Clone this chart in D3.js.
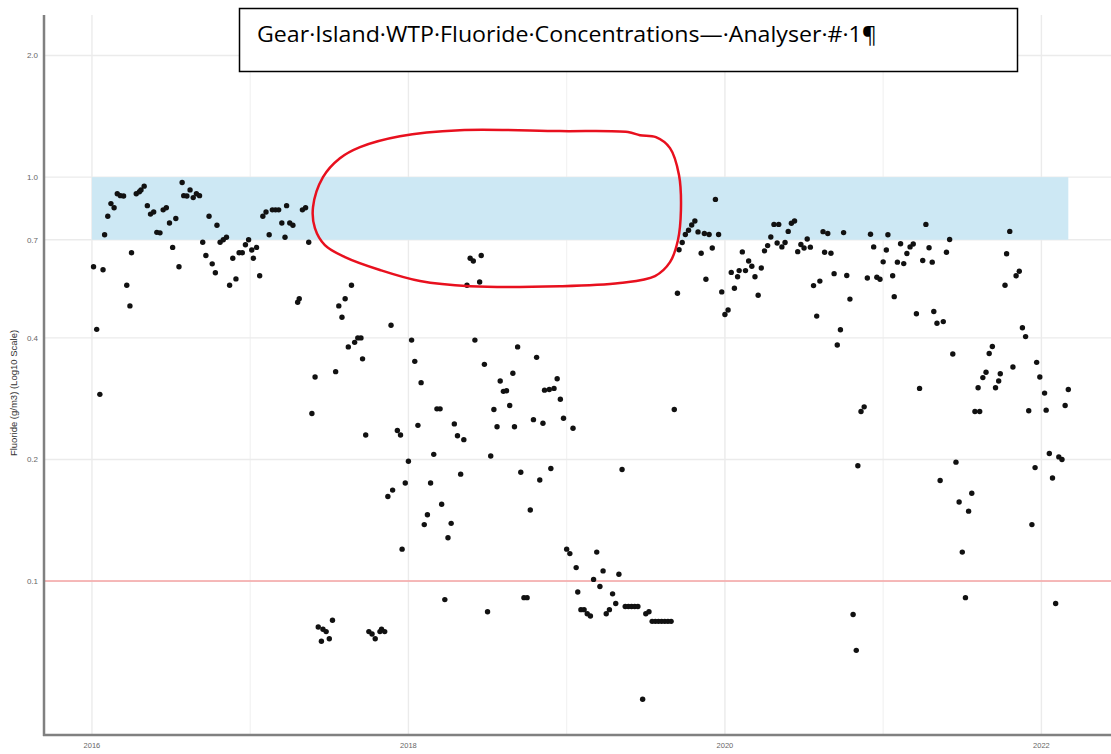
<!DOCTYPE html>
<html>
<head>
<meta charset="utf-8">
<script src="https://cdn.jsdelivr.net/npm/d3@7"></script>
<style>
  html, body { margin: 0; padding: 0; background: #fff; }
  svg { display: block; }
</style>
</head>
<body>
<svg id="chart" width="1111" height="754"></svg>
<script>
// ---------------- DATA ----------------
const titleText = "Gear\u00B7Island\u00B7WTP\u00B7Fluoride\u00B7Concentrations\u2014\u00B7Analyser\u00B7#\u00B71\u00B6";
const yAxisTitle = "Fluoride (g/m3) (Log10 Scale)";
const xTickValues = [2016, 2018, 2020, 2022];
const xMinorValues = [2017, 2019, 2021];
const yTickValues = [0.1, 0.2, 0.4, 0.7, 1.0, 2.0];
const yTickLabels = ["0.1", "0.2", "0.4", "0.7", "1.0", "2.0"];
const targetBand = [0.7, 1.0];          // shaded target range
const bandYears = [2016.0, 2022.17];    // shaded band extent
const minLimit = 0.1;                   // red reference line

const sampleYears = [
2016.01,2016.03,2016.05,2016.07,2016.08,2016.10,2016.12,2016.14,2016.16,2016.18,
2016.20,2016.22,2016.24,2016.25,2016.28,2016.30,2016.31,2016.33,2016.35,2016.37,
2016.39,2016.41,2016.43,2016.45,2016.47,2016.49,2016.51,2016.53,2016.55,2016.57,
2016.58,2016.60,2016.62,2016.64,2016.66,2016.68,2016.70,2016.72,2016.74,2016.76,
2016.78,2016.79,2016.81,2016.83,2016.85,2016.87,2016.89,2016.91,2016.93,2016.95,
2016.97,2016.99,2017.01,2017.02,2017.04,2017.06,2017.08,2017.10,2017.12,2017.14,
2017.16,2017.18,2017.20,2017.22,2017.23,2017.25,2017.27,2017.30,2017.31,2017.33,
2017.35,2017.37,2017.39,2017.41,2017.43,2017.45,2017.46,2017.48,2017.50,2017.52,
2017.54,2017.56,2017.58,2017.60,2017.62,2017.64,2017.66,2017.68,2017.70,2017.71,
2017.73,2017.75,2017.77,2017.79,2017.82,2017.83,2017.85,2017.87,2017.89,2017.90,
2017.93,2017.95,2017.96,2017.98,2018.00,2018.02,2018.04,2018.06,2018.08,2018.10,
2018.12,2018.14,2018.16,2018.18,2018.20,2018.21,2018.23,2018.25,2018.27,2018.29,
2018.31,2018.33,2018.35,2018.37,2018.39,2018.41,2018.42,2018.45,2018.46,2018.48,
2018.50,2018.52,2018.54,2018.56,2018.58,2018.60,2018.62,2018.64,2018.66,2018.67,
2018.69,2018.71,2018.73,2018.75,2018.77,2018.79,2018.81,2018.83,2018.85,2018.86,
2018.89,2018.90,2018.92,2018.94,2018.96,2018.98,2019.00,2019.02,2019.04,2019.06,
2019.07,2019.09,2019.11,2019.13,2019.15,2019.17,2019.19,2019.21,2019.23,2019.25,
2019.27,2019.29,2019.31,2019.33,2019.35,2019.37,2019.39,2019.41,2019.43,2019.45,
2019.48,2019.50,2019.52,2019.54,2019.56,2019.58,2019.60,2019.62,2019.64,2019.66,
2019.68,2019.70,2019.71,2019.73,2019.75,2019.77,2019.79,2019.81,2019.83,2019.85,
2019.87,2019.88,2019.90,2019.92,2019.94,2019.96,2019.98,2020.00,2020.02,2020.04,
2020.06,2020.08,2020.09,2020.11,2020.13,2020.15,2020.17,2020.19,2020.21,2020.23,
2020.25,2020.27,2020.29,2020.31,2020.33,2020.34,2020.36,2020.38,2020.40,2020.42,
2020.44,2020.46,2020.48,2020.50,2020.52,2020.54,2020.56,2020.58,2020.60,2020.62,
2020.63,2020.65,2020.67,2020.69,2020.71,2020.73,2020.75,2020.77,2020.79,2020.81,
2020.83,2020.84,2020.86,2020.88,2020.90,2020.92,2020.94,2020.96,2020.98,2021.00,
2021.02,2021.03,2021.06,2021.07,2021.09,2021.11,2021.13,2021.15,2021.17,2021.19,
2021.21,2021.23,2021.25,2021.27,2021.29,2021.31,2021.32,2021.34,2021.36,2021.38,
2021.40,2021.42,2021.44,2021.46,2021.48,2021.50,2021.52,2021.54,2021.56,2021.58,
2021.60,2021.61,2021.63,2021.65,2021.67,2021.69,2021.71,2021.73,2021.74,2021.77,
2021.78,2021.80,2021.82,2021.84,2021.86,2021.88,2021.90,2021.92,2021.94,2021.96,
2021.97,2021.99,2022.02,2022.03,2022.05,2022.07,2022.09,2022.11,2022.13,2022.15,
2022.17
];

const fluorideValues = [
0.60,0.42,0.29,0.59,0.72,0.80,0.86,0.84,0.91,0.90,
0.898,0.54,0.48,0.65,0.91,0.92,0.93,0.95,0.85,0.81,
0.82,0.73,0.728,0.83,0.84,0.77,0.67,0.79,0.60,0.97,
0.90,0.898,0.93,0.89,0.91,0.90,0.69,0.64,0.80,0.61,
0.58,0.76,0.69,0.70,0.71,0.54,0.63,0.56,0.65,0.65,
0.68,0.70,0.66,0.63,0.67,0.57,0.80,0.82,0.72,0.83,
0.83,0.83,0.77,0.71,0.85,0.77,0.76,0.49,0.50,0.83,
0.84,0.69,0.26,0.32,0.077,0.071,0.076,0.075,0.072,0.080,
0.33,0.48,0.45,0.50,0.38,0.54,0.39,0.40,0.40,0.355,
0.23,0.075,0.074,0.072,0.075,0.076,0.075,0.162,0.43,0.168,
0.236,0.230,0.12,0.175,0.198,0.395,0.35,0.243,0.31,0.138,
0.146,0.175,0.206,0.267,0.267,0.155,0.090,0.128,0.139,0.245,
0.229,0.184,0.224,0.54,0.63,0.62,0.395,0.55,0.64,0.344,
0.084,0.204,0.266,0.241,0.313,0.295,0.296,0.272,0.327,0.241,
0.380,0.186,0.091,0.091,0.150,0.251,0.358,0.178,0.246,0.297,
0.298,0.190,0.300,0.317,0.282,0.253,0.120,0.117,0.239,0.108,
0.094,0.085,0.085,0.083,0.082,0.101,0.118,0.097,0.106,0.083,
0.085,0.093,0.088,0.104,0.189,0.0865,0.0865,0.0865,0.0865,0.0865,
0.051,0.083,0.084,0.0795,0.0795,0.0795,0.0795,0.0795,0.0795,0.0795,
0.266,0.516,0.661,0.689,0.721,0.739,0.761,0.779,0.732,0.648,
0.725,0.559,0.721,0.668,0.881,0.721,0.520,0.457,0.469,0.581,
0.531,0.567,0.587,0.653,0.587,0.620,0.602,0.567,0.510,0.596,
0.657,0.677,0.711,0.764,0.687,0.764,0.672,0.689,0.734,0.769,
0.779,0.654,0.681,0.668,0.703,0.671,0.539,0.453,0.553,0.733,
0.652,0.725,0.648,0.577,0.384,0.419,0.729,0.571,0.499,0.0827,
0.0674,0.193,0.263,0.270,0.563,0.722,0.672,0.565,0.559,0.617,
0.660,0.720,0.570,0.506,0.616,0.684,0.611,0.647,0.672,0.683,
0.459,0.300,0.622,0.764,0.669,0.616,0.465,0.435,0.1775,0.439,
0.652,0.701,0.365,0.197,0.157,0.118,0.091,0.149,0.165,0.263,
0.301,0.263,0.319,0.329,0.366,0.381,0.301,0.313,0.326,0.540,
0.646,0.734,0.339,0.570,0.585,0.424,0.403,0.264,0.138,0.191,
0.348,0.320,0.292,0.265,0.207,0.180,0.088,0.203,0.200,0.272,
0.298
];

// Hand-drawn red annotation outline, in data units (year, value)
const annotYears  = [2017.397,2017.460,2017.567,2017.694,2017.946,2018.325,2018.957,2019.387,2019.463,2019.564,2019.653,2019.710,2019.722,2019.703,2019.653,2019.558,2019.336,2018.957,2018.389,2018.073,2017.820,2017.599,2017.472,2017.409];
const annotValues = [0.843,1.0,1.114,1.187,1.263,1.307,1.300,1.293,1.270,1.256,1.180,1.011,0.829,0.698,0.616,0.569,0.547,0.537,0.537,0.553,0.589,0.634,0.679,0.748];

// ---------------- CHART ----------------
const W = 1111, H = 754;
const margin = { left: 44, top: 15, bottom: 735, right: 1118 };
const svg = d3.select("#chart");

const x = d3.scaleLinear().domain([2015.697, 2022.484]).range([margin.left, margin.right]);
const y = d3.scaleLog().domain([0.0416, 2.52]).range([margin.bottom, margin.top]);

const g = svg.append("g");

// grid
g.selectAll("line.vminor").data(xMinorValues).join("line")
  .attr("x1", d => x(d)).attr("x2", d => x(d))
  .attr("y1", margin.top).attr("y2", margin.bottom)
  .attr("stroke", "#f2f2f2").attr("stroke-width", 1.2);
g.selectAll("line.vmajor").data(xTickValues).join("line")
  .attr("x1", d => x(d)).attr("x2", d => x(d))
  .attr("y1", margin.top).attr("y2", margin.bottom)
  .attr("stroke", "#ebebeb").attr("stroke-width", 1.4);
g.selectAll("line.hgrid").data(yTickValues).join("line")
  .attr("x1", margin.left).attr("x2", margin.right)
  .attr("y1", d => y(d)).attr("y2", d => y(d))
  .attr("stroke", "#ebebeb").attr("stroke-width", 1.4);

// target band
g.append("rect")
  .attr("x", x(bandYears[0])).attr("width", x(bandYears[1]) - x(bandYears[0]))
  .attr("y", y(targetBand[1])).attr("height", y(targetBand[0]) - y(targetBand[1]))
  .attr("fill", "#cde8f4");

// red limit line
g.append("line")
  .attr("x1", margin.left).attr("x2", margin.right)
  .attr("y1", y(minLimit)).attr("y2", y(minLimit))
  .attr("stroke", "#f6a5a5").attr("stroke-width", 1.5);

// points
const pts = sampleYears.map((yr, i) => ({ yr, v: fluorideValues[i] }));
g.selectAll("circle.pt").data(pts).join("circle")
  .attr("cx", d => x(d.yr)).attr("cy", d => y(d.v))
  .attr("r", 2.7).attr("fill", "#111");

// axes lines
g.append("line").attr("x1", margin.left).attr("x2", margin.left)
  .attr("y1", margin.top).attr("y2", margin.bottom + 1)
  .attr("stroke", "#808080").attr("stroke-width", 2.5);
g.append("line").attr("x1", margin.left - 1).attr("x2", W)
  .attr("y1", margin.bottom).attr("y2", margin.bottom)
  .attr("stroke", "#808080").attr("stroke-width", 2.5);

// tick labels
g.selectAll("text.ytick").data(yTickValues).join("text")
  .attr("x", margin.left - 6).attr("y", d => y(d)).attr("dy", "0.35em")
  .attr("text-anchor", "end")
  .attr("font-family", "Liberation Sans, Arial, sans-serif")
  .attr("font-size", 8).attr("fill", "#666")
  .text((d, i) => yTickLabels[i]);
g.selectAll("text.xtick").data(xTickValues).join("text")
  .attr("x", d => x(d)).attr("y", margin.bottom + 13)
  .attr("text-anchor", "middle")
  .attr("font-family", "Liberation Sans, Arial, sans-serif")
  .attr("font-size", 7.5).attr("fill", "#666")
  .text(d => d);

// y axis title
svg.append("text")
  .attr("transform", `translate(17, ${(margin.top + margin.bottom) / 2 + 18}) rotate(-90)`)
  .attr("text-anchor", "middle")
  .attr("font-family", "Liberation Sans, Arial, sans-serif")
  .attr("font-size", 9.5).attr("fill", "#333")
  .text(yAxisTitle);

// red annotation outline
const annot = annotYears.map((yr, i) => [x(yr), y(annotValues[i])]);
svg.append("path")
  .attr("d", d3.line().curve(d3.curveCatmullRomClosed.alpha(0.5))(annot))
  .attr("fill", "none").attr("stroke", "#e8101e").attr("stroke-width", 2.5);

// title box
svg.append("rect")
  .attr("x", 239.5).attr("y", 8.5).attr("width", 778).attr("height", 63)
  .attr("fill", "#fff").attr("stroke", "#000").attr("stroke-width", 1.5);
svg.append("text")
  .attr("x", 257).attr("y", 42)
  .attr("font-family", "Open Sans, Lato, sans-serif")
  .attr("font-size", 21).attr("fill", "#000")
  .attr("textLength", 620).attr("lengthAdjust", "spacingAndGlyphs")
  .text(titleText);
</script>
</body>
</html>
